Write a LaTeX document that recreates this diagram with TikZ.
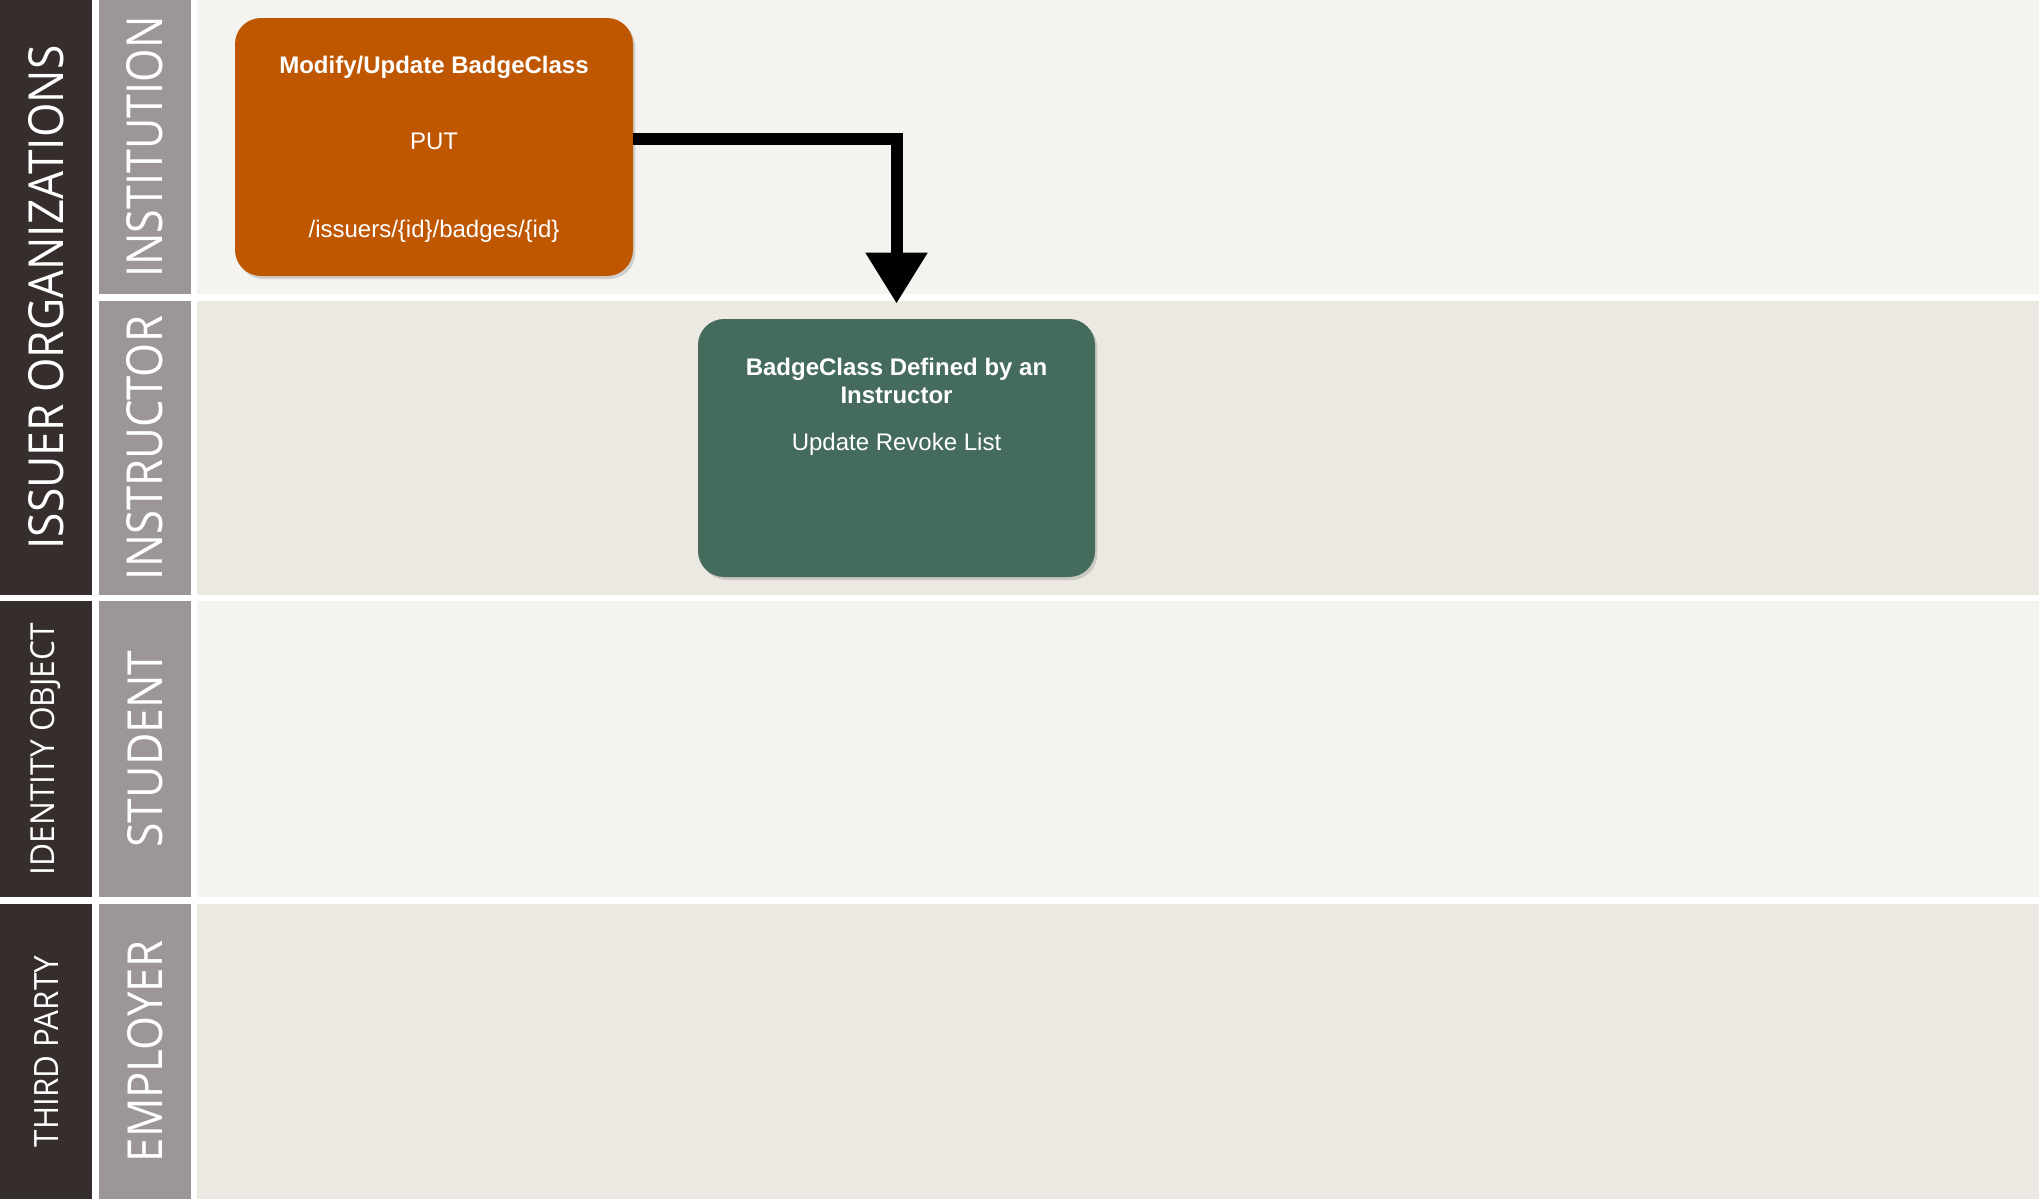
\documentclass[tikz,border=0pt]{standalone}
\usepackage{fontspec}
\setmainfont{Liberation Sans}
\newfontfamily\lanefont{Open Sans}
\usetikzlibrary{arrows.meta,shadows}
\definecolor{darkcol}{HTML}{362E2D}
\definecolor{graycol}{HTML}{9C9696}
\definecolor{lanelight}{HTML}{F4F3EF}
\definecolor{lanedark}{HTML}{ECE9E2}
\definecolor{burnt}{HTML}{BF5700}
\definecolor{sage}{HTML}{446B5C}
\newcommand{\lanetxt}[3]{\resizebox{#1}{#2}{\lanefont #3}}
\tikzset{
  lanelabel/.style={rotate=90, inner sep=0pt, text=white},
  stepbox/.style={rounded corners=13pt, inner sep=0pt,
    drop shadow={shadow xshift=1.2pt, shadow yshift=-1.5pt, opacity=0.14, fill=black}},
  boxtitle/.style={anchor=base, inner sep=0pt, text=white, font=\fontsize{12}{14}\selectfont\bfseries},
  boxtext/.style={anchor=base, inner sep=0pt, text=white, font=\fontsize{12}{14}\selectfont},
  flow/.style={line width=6pt, -{Triangle[length=25.5pt,width=29.5pt]}}
}
\begin{document}
\begin{tikzpicture}[x=0.5pt,y=-0.5pt]
\useasboundingbox (0,0) rectangle (2039,1199);
\fill[white] (0,0) rectangle (2039,1199);
% outer group column
\fill[darkcol] (0,0) rectangle (92,595);
\fill[darkcol] (0,601) rectangle (92,897);
\fill[darkcol] (0,904) rectangle (92,1199);
% role column
\fill[graycol] (99,0) rectangle (191,294);
\fill[graycol] (99,301) rectangle (191,595);
\fill[graycol] (99,601) rectangle (191,897);
\fill[graycol] (99,904) rectangle (191,1199);
% lanes
\fill[lanelight] (197,0) rectangle (2039,294);
\fill[lanedark] (197,301) rectangle (2039,595);
\fill[lanelight] (197,601) rectangle (2039,897);
\fill[lanedark] (197,904) rectangle (2039,1199);
% labels
\node[lanelabel] (issuer) at (46,297.5) {\lanetxt{252pt}{17.5pt}{ISSUER ORGANIZATIONS}};
\node[lanelabel] (identity) at (46,749) {\lanetxt{126pt}{12pt}{IDENTITY OBJECT}};
\node[lanelabel] (third) at (46,1051.5) {\lanetxt{95.5pt}{12pt}{THIRD PARTY}};
\node[lanelabel] (institution) at (145,147) {\lanetxt{130.5pt}{18pt}{INSTITUTION}};
\node[lanelabel] (instructor) at (145,448) {\lanetxt{132pt}{18pt}{INSTRUCTOR}};
\node[lanelabel] (student) at (145,749) {\lanetxt{98.5pt}{17.5pt}{STUDENT}};
\node[lanelabel] (employer) at (145,1051.5) {\lanetxt{110.5pt}{17.5pt}{EMPLOYER}};
% boxes
\node[stepbox, fill=burnt, minimum width=199pt, minimum height=129pt] (modify) at (434,147) {};
\node[stepbox, fill=sage, minimum width=198.5pt, minimum height=129pt] (revoke) at (896.5,448) {};
\node[boxtitle] (modtitle) at (434,73) {Modify/Update BadgeClass};
\node[boxtext] (modverb) at (434,149.4) {PUT};
\node[boxtext] (modpath) at (434,237) {/issuers/\{id\}/badges/\{id\}};
\node[boxtitle] (revtitleA) at (896.5,375) {BadgeClass Defined by an};
\node[boxtitle] (revtitleB) at (896.5,403) {Instructor};
\node[boxtext] (revtext) at (896.5,450) {Update Revoke List};
% connector
\draw[flow] ([yshift=4pt]modify.east) -| ([yshift=7.5pt]revoke.north);
\end{tikzpicture}
\end{document}
